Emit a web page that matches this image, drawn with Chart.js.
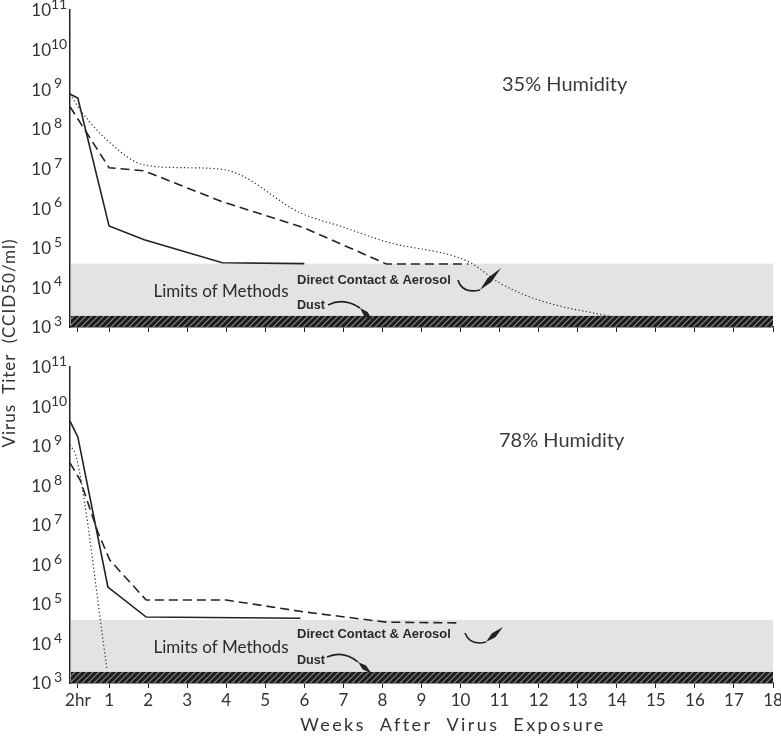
<!DOCTYPE html>
<html>
<head>
<meta charset="utf-8">
<title>Virus titer vs weeks</title>
<script src="https://cdn.jsdelivr.net/npm/chart.js@4.4.1/dist/chart.umd.min.js"></script>
<style>
  html, body { margin: 0; padding: 0; background: #fff; }
  #wrap { position: relative; width: 781px; height: 741px; overflow: hidden; }
  #dry { position: absolute; left: 0; top: 0; }
  #wet { position: absolute; left: 0; top: 345px; }
  #ytitle {
    position: absolute; left: -113px; top: 332px; width: 244px; height: 22px;
    transform: rotate(-90deg); text-align: center; white-space: pre;
    font: 17px Lato, sans-serif; letter-spacing: 1px; color: #333; line-height: 22px;
  }
</style>
</head>
<body>
<div id="wrap">
  <canvas id="dry" width="781" height="345"></canvas>
  <canvas id="wet" width="781" height="396"></canvas>
  <div id="ytitle">Virus  Titer  (CCID50/ml)</div>
</div>
<script>
// x axis: weeks, first tick is the 2 hour sample
const weekTicks = [0.2, 1, 2, 3, 4, 5, 6, 7, 8, 9, 10, 11, 12, 13, 14, 15, 16, 17, 18];
const weekLabels = ['2hr', '1', '2', '3', '4', '5', '6', '7', '8', '9', '10', '11', '12', '13', '14', '15', '16', '17', '18'];
const titerExponents = [3, 4, 5, 6, 7, 8, 9, 10, 11];

// 35% humidity (log10 titer)
const dryWeeksSolid  = [0, 0.2, 1, 1.9, 3.9, 6];
const dryLogSolid    = [8.88, 8.78, 5.55, 5.2, 4.62, 4.6];
const dryWeeksDashed = [0, 1, 1.9, 3.9, 6, 8.1, 10.2];
const dryLogDashed   = [8.56, 7.02, 6.94, 6.16, 5.5, 4.59, 4.59];
const dryWeeksDotted = [0, 0.26, 1, 1.9, 3, 4, 5.9, 7, 8.1, 10.2, 11, 12, 13.9];
const dryLogDotted   = [8.88, 8.48, 7.67, 7.09, 7.02, 6.96, 5.88, 5.52, 5.15, 4.65, 4.11, 3.68, 3.25];

// 78% humidity (log10 titer)
const wetWeeksSolid  = [0, 0.2, 0.97, 1.95, 5.9];
const wetLogSolid    = [9.63, 9.23, 5.43, 4.67, 4.64];
const wetWeeksDashed = [0, 0.26, 0.72, 1.02, 1.95, 4, 6, 8.1, 10];
const wetLogDashed   = [8.57, 8.14, 6.8, 6.11, 5.1, 5.1, 4.8, 4.54, 4.52];
const wetWeeksDotted = [0, 0.18, 0.95];
const wetLogDotted   = [9.03, 8.65, 3.33];

// limits of methods (log10 titer)
const limitAerosolLog = 4.6;
const limitDustLog = 3.28;

const FONT = 'Lato, "Open Sans", sans-serif';
const INK = '#222';

function pts(weeks, logs) {
  return weeks.map((w, i) => ({ x: w, y: Math.pow(10, logs[i]) }));
}

const hatchTile = (() => {
  const c = document.createElement('canvas');
  c.width = 6; c.height = 6;
  const g = c.getContext('2d');
  g.fillStyle = '#1b1b1b';
  g.fillRect(0, 0, 6, 6);
  g.strokeStyle = '#8c8c8c';
  g.lineWidth = 1.1;
  g.beginPath();
  g.moveTo(0, 6); g.lineTo(6, 0);
  g.moveTo(-1, 1); g.lineTo(1, -1);
  g.moveTo(5, 7); g.lineTo(7, 5);
  g.stroke();
  return c;
})();

function drawArrow(ctx, a) {
  // a: [start, control, curveEnd, tip]
  const [s, c, e, t] = a;
  ctx.save();
  ctx.strokeStyle = INK;
  ctx.fillStyle = INK;
  ctx.lineWidth = 1.6;
  ctx.beginPath();
  ctx.moveTo(s[0], s[1]);
  ctx.quadraticCurveTo(c[0], c[1], e[0], e[1]);
  ctx.stroke();
  const dx = t[0] - e[0], dy = t[1] - e[1];
  const len = Math.hypot(dx, dy);
  const nx = -dy / len, ny = dx / len;
  ctx.beginPath();
  ctx.moveTo(e[0], e[1]);
  ctx.lineTo(e[0] + dx * 0.45 + nx * 2.6, e[1] + dy * 0.45 + ny * 2.6);
  ctx.lineTo(t[0], t[1]);
  ctx.lineTo(e[0] + dx * 0.45 - nx * 2.6, e[1] + dy * 0.45 - ny * 2.6);
  ctx.closePath();
  ctx.fill();
  ctx.restore();
}

const panelPlugin = {
  id: 'panel',
  beforeDatasetsDraw(chart) {
    const { ctx, chartArea: ca, scales: { y } } = chart;
    const yA = y.getPixelForValue(Math.pow(10, limitAerosolLog));
    const yD = y.getPixelForValue(Math.pow(10, limitDustLog));
    ctx.save();
    ctx.fillStyle = '#e3e3e3';
    ctx.fillRect(ca.left + 1, yA, ca.right - ca.left - 1, yD - yA);
    ctx.fillStyle = ctx.createPattern(hatchTile, 'repeat');
    ctx.fillRect(ca.left + 1, yD, ca.right - ca.left - 1, ca.bottom - yD);
    ctx.restore();
  },
  afterDraw(chart, args, opts) {
    const { ctx, chartArea: ca, scales: { y } } = chart;
    ctx.save();
    ctx.fillStyle = '#333';
    // y tick labels as 10 with raised exponent
    titerExponents.forEach(e => {
      const py = y.getPixelForValue(Math.pow(10, e));
      ctx.font = '17px ' + FONT;
      ctx.textAlign = 'right';
      ctx.textBaseline = 'middle';
      ctx.fillText('10', 51, py + 1);
      ctx.font = '14px ' + FONT;
      ctx.textAlign = 'left';
      ctx.textBaseline = 'alphabetic';
      ctx.fillText(String(e), e >= 10 ? 51 : 54, py - 1);
    });
    const b = ca.bottom;
    // panel title
    ctx.font = '20px ' + FONT;
    ctx.textAlign = 'left';
    ctx.textBaseline = 'middle';
    ctx.fillStyle = '#3a3a3a';
    ctx.fillText(opts.title, opts.titleX, ca.top + opts.titleDy, 126);
    // annotations
    ctx.fillStyle = '#2a2a2a';
    ctx.font = '17px ' + FONT;
    ctx.textAlign = 'center';
    ctx.fillText('Limits of Methods', 221, b - 35, 140);
    ctx.font = 'bold 13px "Liberation Sans Narrow", "Liberation Sans", Arial, sans-serif';
    ctx.textAlign = 'left';
    ctx.fillText('Direct Contact & Aerosol', 297, b + opts.aeroDy, opts.aeroW);
    ctx.fillText('Dust', 297, b + opts.dustDy, 28);
    drawArrow(ctx, opts.aeroArrow.map(p => [p[0], b + p[1]]));
    drawArrow(ctx, opts.dustArrow.map(p => [p[0], b + p[1]]));
    if (opts.xTitle) {
      ctx.font = '18px ' + FONT;
      ctx.textAlign = 'center';
      ctx.letterSpacing = '2.4px';
      ctx.fillStyle = '#333';
      ctx.fillText('Weeks  After  Virus  Exposure', 453, b + 42, 310);
    }
    ctx.restore();
  }
};

function makePanel(id, sets, showLabels, padTop, xHeight, annot) {
  return new Chart(document.getElementById(id), {
    type: 'line',
    data: {
      datasets: [
        { data: pts(sets[0], sets[1]), borderColor: INK, borderWidth: 1.6, pointRadius: 0, tension: 0 },
        { data: pts(sets[2], sets[3]), borderColor: INK, borderWidth: 1.6, borderDash: [9, 5], pointRadius: 0, tension: 0 },
        { data: pts(sets[4], sets[5]), borderColor: '#333', borderWidth: 1.2, borderDash: [1.3, 2.4], pointRadius: 0, cubicInterpolationMode: 'monotone' }
      ]
    },
    options: {
      responsive: false,
      animation: false,
      layout: { padding: { top: padTop, right: 8, left: 0, bottom: 0 } },
      plugins: { legend: { display: false }, tooltip: { enabled: false }, panel: annot },
      scales: {
        x: {
          type: 'linear', min: 0, max: 18,
          afterBuildTicks: s => { s.ticks = weekTicks.map(v => ({ value: v })); },
          afterFit: s => { s.height = xHeight; s.paddingLeft = 0; s.paddingRight = 0; },
          grid: { display: true, drawOnChartArea: false, drawTicks: true, tickLength: 5, color: INK, lineWidth: 1 },
          border: { display: true, color: INK, width: 1.5 },
          ticks: {
            display: showLabels, autoSkip: false, maxRotation: 0, padding: 2,
            font: { family: FONT, size: 17 }, color: '#333',
            callback: (v, i) => weekLabels[i]
          }
        },
        y: {
          type: 'logarithmic', min: 1e3, max: 1e11,
          afterBuildTicks: s => { s.ticks = titerExponents.map(e => ({ value: Math.pow(10, e) })); },
          afterFit: s => { s.width = 70; s.paddingTop = 0; s.paddingBottom = 0; },
          grid: { display: false },
          border: { display: true, color: INK, width: 1.5 },
          ticks: { display: false }
        }
      }
    },
    plugins: [panelPlugin]
  });
}

makePanel('dry',
  [dryWeeksSolid, dryLogSolid, dryWeeksDashed, dryLogDashed, dryWeeksDotted, dryLogDotted],
  false, 10, 18,
  {
    title: '35% Humidity', titleX: 502, titleDy: 75,
    aeroDy: -47, aeroW: 157, dustDy: -22,
    aeroArrow: [[458, -47], [462, -33], [480, -37], [501, -59]],
    dustArrow: [[328, -22], [344, -30], [360, -19], [373, -6]],
    xTitle: false
  });

makePanel('wet',
  [wetWeeksSolid, wetLogSolid, wetWeeksDashed, wetLogDashed, wetWeeksDotted, wetLogDotted],
  true, 22, 58,
  {
    title: '78% Humidity', titleX: 499, titleDy: 74,
    aeroDy: -49, aeroW: 163, dustDy: -23,
    aeroArrow: [[465, -50], [470, -37], [486, -41], [503, -56]],
    dustArrow: [[327, -26], [343, -33], [358, -21], [372, -9]],
    xTitle: true
  });
</script>
</body>
</html>
